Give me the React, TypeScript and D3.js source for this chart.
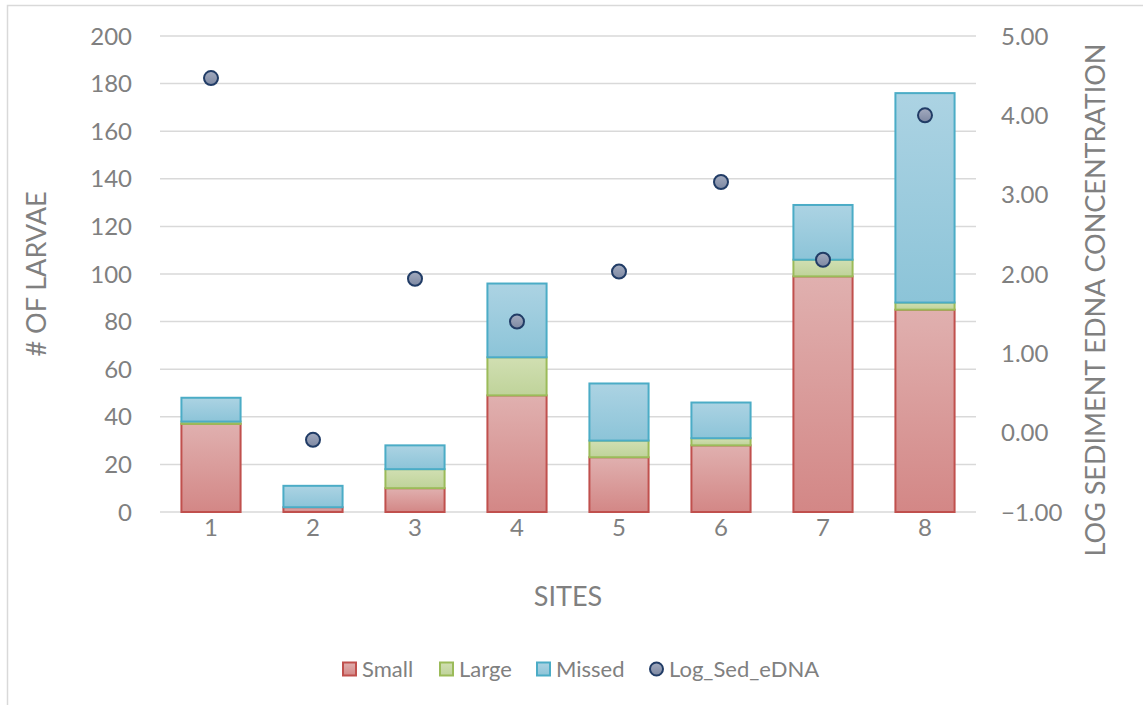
import React from "react";
import * as d3 from "d3";

const sites = ["1", "2", "3", "4", "5", "6", "7", "8"];
const small = [37, 2, 10, 49, 23, 28, 99, 85];
const large = [1, 0, 8, 16, 7, 3, 7, 3];
const missed = [10, 9, 10, 31, 24, 15, 23, 88];
const logSedEDNA = [4.47, -0.09, 1.94, 1.4, 2.03, 3.16, 2.18, 4.0];
const leftTicks = [0, 20, 40, 60, 80, 100, 120, 140, 160, 180, 200];
const rightTicks = [-1, 0, 1, 2, 3, 4, 5];
const seriesNames = ["Small", "Large", "Missed"];

const W = 1143;
const H = 705;
const plot = { left: 160, right: 976, top: 36, bottom: 512 };
const FONT = "Lato, 'Open Sans', sans-serif";
const TEXT = "#808080";

const seriesStyle = [
  { id: "gSmall", top: "#e0b0af", bottom: "#d38786", stroke: "#c0504d" },
  { id: "gLarge", top: "#d1dfb2", bottom: "#bfd39a", stroke: "#9bbb59" },
  { id: "gMissed", top: "#acd3e3", bottom: "#8cc4d8", stroke: "#4bacc6" },
];

export default function App() {
  const x = d3.scaleBand<string>().domain(sites).range([plot.left, plot.right]).paddingInner(0.42).paddingOuter(0.21);
  const y = d3.scaleLinear().domain([0, 200]).range([plot.bottom, plot.top]);
  const y2 = d3.scaleLinear().domain([-1, 5]).range([plot.bottom, plot.top]);

  const rows = sites.map((s, i) => ({ site: s, Small: small[i], Large: large[i], Missed: missed[i] }));
  const stacked = d3.stack<any>().keys(seriesNames)(rows);

  const legendItems = [
    { label: "Small", kind: 0, x: 343 },
    { label: "Large", kind: 1, x: 440 },
    { label: "Missed", kind: 2, x: 537 },
    { label: "Log_Sed_eDNA", kind: 3, x: 650 },
  ];

  return (
    <svg width={W} height={H} style={{ position: "absolute", left: 0, top: 0, background: "#fff" }} fontFamily={FONT}>
      <defs>
        {seriesStyle.map((s) => (
          <linearGradient key={s.id} id={s.id} x1="0" y1="0" x2="0" y2="1">
            <stop offset="0" stopColor={s.top} />
            <stop offset="1" stopColor={s.bottom} />
          </linearGradient>
        ))}
        <linearGradient id="gDot" x1="0" y1="0" x2="0" y2="1">
          <stop offset="0" stopColor="#a3abbf" />
          <stop offset="1" stopColor="#7d88a2" />
        </linearGradient>
      </defs>

      {/* chart frame */}
      <rect x={7.5} y={5.5} width={W + 10} height={H + 10} fill="none" stroke="#d9d9d9" strokeWidth={1.5} />

      {/* gridlines */}
      {leftTicks.map((t) => (
        <line key={t} x1={plot.left} x2={plot.right} y1={y(t)} y2={y(t)} stroke="#d9d9d9" strokeWidth={1.5} />
      ))}

      {/* left axis labels */}
      {leftTicks.map((t) => (
        <text key={t} x={132} y={y(t)} dy="0.36em" textAnchor="end" fontSize={24} fill={TEXT}>
          {t}
        </text>
      ))}
      {/* right axis labels */}
      {rightTicks.map((t) => (
        <text key={t} x={1001} y={y2(t)} dy="0.36em" textAnchor="start" fontSize={24} fill={TEXT}>
          {d3.format(".2f")(t)}
        </text>
      ))}

      {/* stacked bars */}
      {stacked.map((layer, si) =>
        layer.map((d, i) => {
          const h = y(d[0]) - y(d[1]);
          if (h <= 0) return null;
          const st = seriesStyle[si];
          return (
            <rect
              key={`${si}-${i}`}
              x={x(sites[i])!}
              y={y(d[1])}
              width={x.bandwidth()}
              height={h}
              fill={`url(#${st.id})`}
              stroke={st.stroke}
              strokeWidth={2}
            />
          );
        })
      )}

      {/* eDNA points */}
      {logSedEDNA.map((v, i) => (
        <circle key={i} cx={x(sites[i])! + x.bandwidth() / 2} cy={y2(v)} r={7} fill="url(#gDot)" stroke="#213c66" strokeWidth={2} />
      ))}

      {/* x labels */}
      {sites.map((s) => (
        <text key={s} x={x(s)! + x.bandwidth() / 2} y={527} dy="0.36em" textAnchor="middle" fontSize={24} fill={TEXT}>
          {s}
        </text>
      ))}

      {/* axis titles */}
      <text x={568} y={596} dy="0.36em" textAnchor="middle" fontSize={27} fill={TEXT}>
        SITES
      </text>
      <text transform="translate(36,274) rotate(-90)" dy="0.36em" textAnchor="middle" fontSize={27} fill={TEXT}>
        # OF LARVAE
      </text>
      <text transform="translate(1095,300) rotate(-90)" dy="0.36em" textAnchor="middle" fontSize={27} fill={TEXT}>
        LOG SEDIMENT EDNA CONCENTRATION
      </text>

      {/* legend */}
      {legendItems.map((it) => (
        <g key={it.label} transform={`translate(${it.x},669)`}>
          {it.kind < 3 ? (
            <rect x={0} y={-6.5} width={13} height={13} fill={`url(#${seriesStyle[it.kind].id})`} stroke={seriesStyle[it.kind].stroke} strokeWidth={2} />
          ) : (
            <circle cx={6.5} cy={0} r={6.5} fill="url(#gDot)" stroke="#213c66" strokeWidth={2} />
          )}
          <text x={19} y={0} dy="0.36em" fontSize={22} fill={TEXT}>
            {it.label}
          </text>
        </g>
      ))}
    </svg>
  );
}
